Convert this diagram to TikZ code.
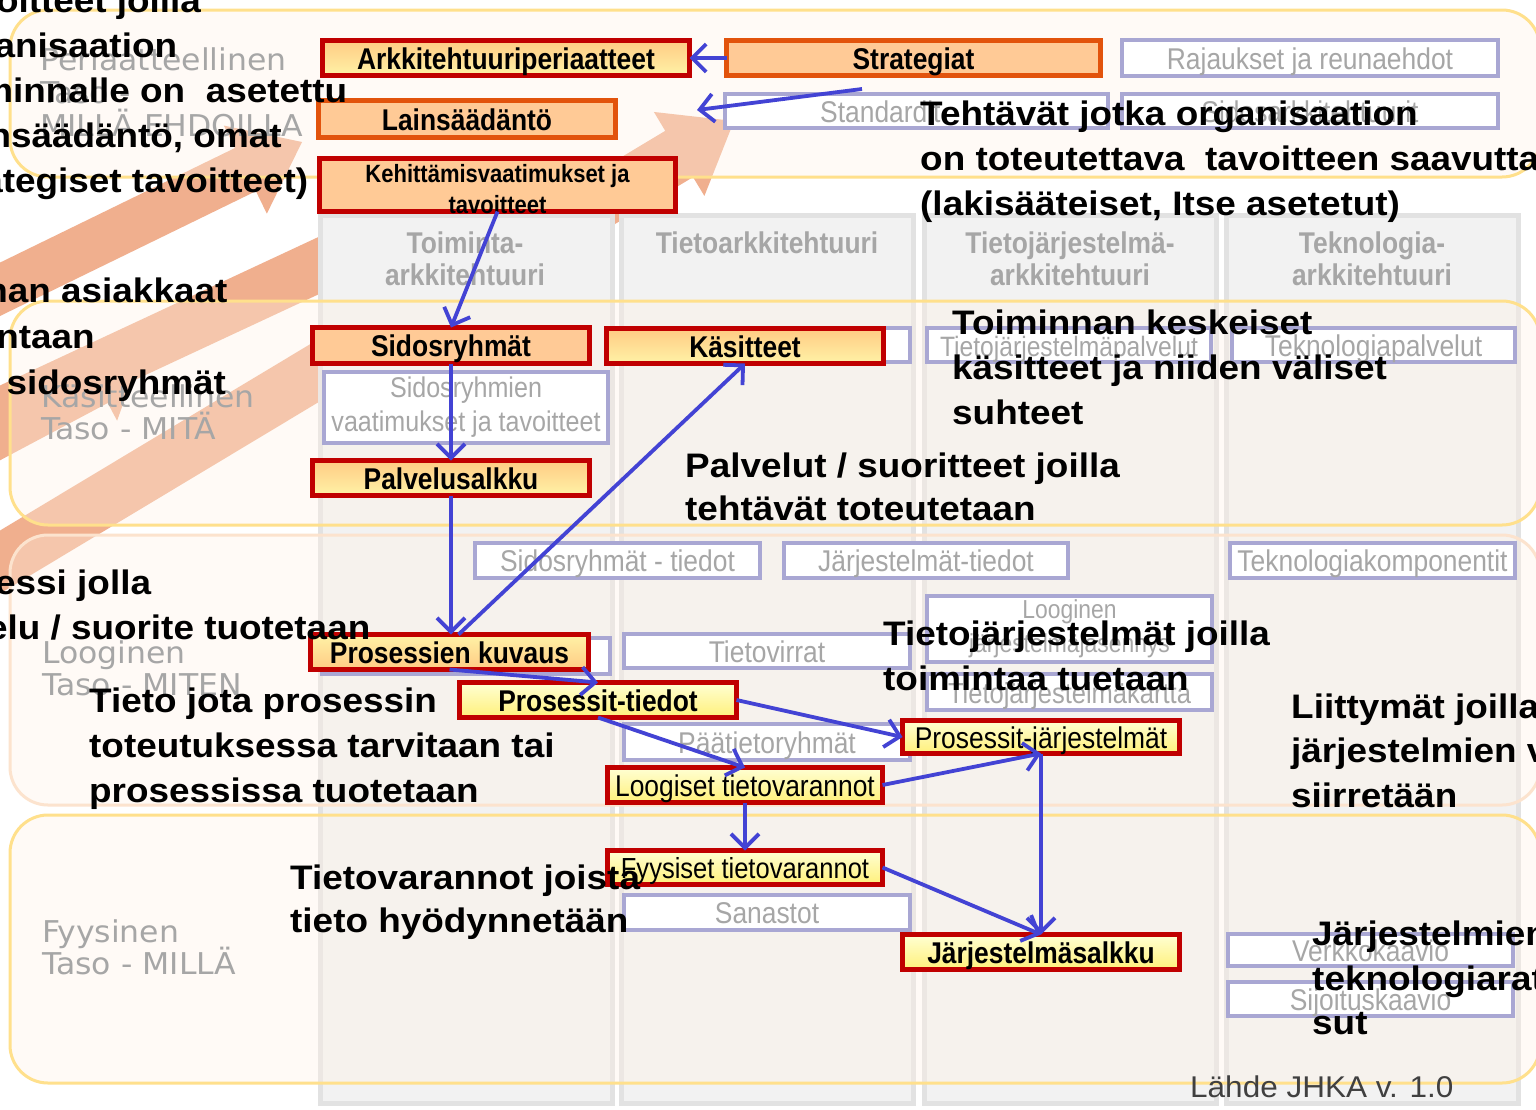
\documentclass[tikz,border=0pt]{standalone}
\usepackage{fontspec}
\setmainfont{Liberation Sans}
\newfontfamily\narf[FakeStretch=0.88]{Liberation Sans}
\newfontfamily\annf[FakeStretch=1.085]{Liberation Sans}
\newfontfamily\lvlf[FakeStretch=1.05]{DejaVu Sans}
\newfontfamily\srcf[FakeStretch=1.05]{Liberation Sans}
\usetikzlibrary{arrows.meta,calc}
\definecolor{salm}{HTML}{F0AF8E}
\definecolor{lvlfill}{HTML}{FFF3E6}
\definecolor{lvlyel}{HTML}{FFE08C}
\definecolor{lvlpeach}{HTML}{FCE3CE}
\definecolor{colfill}{HTML}{F2F2F2}
\definecolor{colline}{HTML}{E2E2E2}
\definecolor{lav}{HTML}{A9A7D3}
\definecolor{greytxt}{HTML}{A6A6A6}
\definecolor{boxred}{HTML}{C00000}
\definecolor{boxorange}{HTML}{E2530C}
\definecolor{peach}{HTML}{FFCA96}
\definecolor{ogtop}{HTML}{FFCB84}
\definecolor{ogbot}{HTML}{FFF2A6}
\definecolor{ygtop}{HTML}{FFFFD4}
\definecolor{ygbot}{HTML}{FFF07A}
\definecolor{arrblue}{HTML}{4343D4}
\definecolor{srcgrey}{HTML}{404040}
\tikzset{
  lvlbox/.style={line width=3pt, fill=lvlfill, fill opacity=0.35, rounded corners=38pt},
  colbox/.style={fill=colfill, draw=colline, line width=5pt},
  bx/.style={rectangle, inner sep=0pt, outer sep=0pt, align=center, text height=25pt, text depth=3pt, font=\narf\fontsize{30pt}{34pt}\selectfont},
  multi/.style={text height={}, text depth={}},
  lavbox/.style={bx, draw=lav, line width=4pt, fill=white, text=greytxt},
  redbox/.style={bx, draw=boxred, line width=5pt, text=black},
  orbox/.style={bx, draw=boxorange, line width=5pt, fill=peach, text=black},
  ograd/.style={top color=ogtop, bottom color=ogbot},
  ogradrev/.style={top color=ogbot, bottom color=ogtop},
  ygrad/.style={top color=ygtop, bottom color=ygbot},
  bld/.style={font=\narf\bfseries\fontsize{30pt}{34pt}\selectfont},
  coltitle/.style={inner sep=0pt, anchor=base, text=greytxt, font=\narf\bfseries\fontsize{30pt}{34pt}\selectfont},
  lvltxt/.style={inner sep=0pt, anchor=base west, text=greytxt, font=\lvlf\fontsize{30pt}{34pt}\selectfont},
  annw/.style={inner sep=0pt, anchor=base west, text=black, font=\annf\bfseries\fontsize{34pt}{45pt}\selectfont},
  flow/.style={draw=arrblue, line width=3.8pt, -{Straight Barb[length=14pt,width=28pt]}},
}
\newcommand{\salmarrow}[6]{%
  \begin{scope}[shift={(#1,#2)}, rotate=#3]
    \fill[salm] (0,0) -- (-#6,#5) -- (-#6,#4) -- (-1400,#4) -- (-1400,-#4) -- (-#6,-#4) -- (-#6,-#5) -- cycle;
  \end{scope}}
\begin{document}
\begin{tikzpicture}[x=1pt,y=-1pt]
\useasboundingbox (0,0) rectangle (1536,1109);
\fill[white] (0,0) rectangle (1536,1109);
% background arrows
\salmarrow{302}{142}{26}{24}{49}{63}
\salmarrow{470}{195}{25}{26}{48}{62}
\salmarrow{734}{121}{31}{27}{49}{64}
\salmarrow{138}{362}{28}{22}{42}{46}
% columns
\draw[colbox] (320,215) rectangle (612,1103);
\draw[colbox] (621,215) rectangle (913,1103);
\draw[colbox] (924,215) rectangle (1216,1103);
\draw[colbox] (1226,215) rectangle (1518,1103);
% level boxes
\draw[lvlbox, draw=lvlyel] (10,10) rectangle (1540,177);
\draw[lvlbox, draw=lvlyel] (10,301) rectangle (1540,525);
\draw[lvlbox, draw=lvlpeach] (10,535) rectangle (1540,805);
\draw[lvlbox, draw=lvlyel] (10,815) rectangle (1540,1083);
% column titles
\node[coltitle] (ct1a) at (465,253) {Toiminta-};
\node[coltitle] (ct1b) at (465,285) {arkkitehtuuri};
\node[coltitle] (ct2) at (767,253) {Tietoarkkitehtuuri};
\node[coltitle] (ct3a) at (1070,253) {Tietojärjestelmä-};
\node[coltitle] (ct3b) at (1070,285) {arkkitehtuuri};
\node[coltitle] (ct4a) at (1372,253) {Teknologia-};
\node[coltitle] (ct4b) at (1372,285) {arkkitehtuuri};
% level labels
\node[lvltxt] (l1a) at (40,70) {Periaatteellinen};
\node[lvltxt] (l1b) at (40,103) {Taso -};
\node[lvltxt] (l1c) at (40,136) {MILLÄ EHDOILLA};
\node[lvltxt] (l2a) at (41,407) {Käsitteellinen};
\node[lvltxt] (l2b) at (41,439) {Taso - MITÄ};
\node[lvltxt] (l3a) at (42,663) {Looginen};
\node[lvltxt] (l3b) at (42,695) {Taso - MITEN};
\node[lvltxt] (l4a) at (42,942) {Fyysinen};
\node[lvltxt] (l4b) at (42,974) {Taso - MILLÄ};
% lavender boxes
\node[lavbox, minimum width=376pt, minimum height=36pt] (raja) at (1310,58) {Rajaukset ja reunaehdot};
\node[lavbox, minimum width=383pt, minimum height=34pt] (stand) at (916.5,111) {};
\node[inner sep=0pt, anchor=base west, text=greytxt, font=\narf\fontsize{30pt}{34pt}\selectfont] (standt) at (820,122) {Standardit};
\node[lavbox, minimum width=376pt, minimum height=34pt] (sidark) at (1310,111) {Sidosarkkitehtuurit};
\node[lavbox, minimum width=288pt, minimum height=34pt] (kasback) at (766,345) {};
\node[lavbox, minimum width=284pt, minimum height=34pt, font=\narf\fontsize{28pt}{32pt}\selectfont] (tjpalv) at (1069,345) {Tietojärjestelmäpalvelut};
\node[lavbox, minimum width=283pt, minimum height=34pt] (tekpalv) at (1373.5,345) {Teknologiapalvelut};
\node[lavbox, multi, minimum width=284pt, minimum height=71pt, font=\narf\fontsize{28.5pt}{34pt}\selectfont] (sidvaat) at (466,407.5) {Sidosryhmien\\vaatimukset ja tavoitteet};
\node[lavbox, minimum width=285pt, minimum height=35pt] (sidtied) at (617.5,560.5) {Sidosryhmät - tiedot};
\node[lavbox, minimum width=284pt, minimum height=35pt] (jarjtied) at (926,560.5) {Järjestelmät-tiedot};
\node[lavbox, minimum width=285pt, minimum height=35pt] (tekkomp) at (1372.5,560.5) {Teknologiakomponentit};
\node[lavbox, multi, minimum width=285pt, minimum height=66pt, font=\narf\fontsize{26pt}{34pt}\selectfont] (loogjas) at (1069.5,629) {Looginen\\järjestelmäjäsennys};
\node[lavbox, minimum width=285pt, minimum height=36pt, font=\narf\fontsize{29pt}{33pt}\selectfont] (tjkartta) at (1069.5,692) {Tietojärjestelmäkartta};
\node[lavbox, minimum width=288pt, minimum height=36pt] (proskback) at (466,656) {};
\node[lavbox, minimum width=286pt, minimum height=34pt] (tvirrat) at (767,651) {Tietovirrat};
\node[lavbox, minimum width=286pt, minimum height=36pt] (paatiet) at (767,742) {Päätietoryhmät};
\node[lavbox, minimum width=286pt, minimum height=35pt] (sanastot) at (767,912.5) {Sanastot};
\node[lavbox, minimum width=285pt, minimum height=32pt] (verkko) at (1370.5,950) {Verkkokaavio};
\node[lavbox, minimum width=285pt, minimum height=34pt] (sijoitus) at (1370.5,999) {Sijoituskaavio};
% red / orange boxes
\node[redbox, ograd, bld, minimum width=367pt, minimum height=35pt] (arkki) at (506,58) {Arkkitehtuuriperiaatteet};
\node[orbox, bld, minimum width=374pt, minimum height=35pt] (strat) at (913.5,58) {Strategiat};
\node[orbox, bld, minimum width=297pt, minimum height=37pt] (lain) at (467,119) {Lainsäädäntö};
\node[redbox, fill=peach, minimum width=356pt, minimum height=53pt] (kehit) at (497.5,185) {};
\node[inner sep=0pt, align=center, font=\narf\bfseries\fontsize{25pt}{31pt}\selectfont] (kehitt) at (497.5,189) {Kehittämisvaatimukset ja\\tavoitteet};
\node[redbox, fill=peach, bld, minimum width=277pt, minimum height=36pt] (sidos) at (451,345.5) {Sidosryhmät};
\node[redbox, ograd, bld, minimum width=277pt, minimum height=35pt] (kasit) at (745,346) {Käsitteet};
\node[redbox, ograd, bld, minimum width=277pt, minimum height=35pt] (palv) at (451,478) {Palvelusalkku};
\node[redbox, ogradrev, bld, minimum width=278pt, minimum height=35pt] (proskuv) at (449.5,652) {Prosessien kuvaus};
\node[redbox, ygrad, bld, minimum width=277pt, minimum height=35pt] (prtied) at (598,700) {Prosessit-tiedot};
\node[redbox, ygrad, minimum width=277pt, minimum height=33pt] (prjarj) at (1041,737) {Prosessit-järjestelmät};
\node[redbox, ygrad, minimum width=275pt, minimum height=35pt] (loogtv) at (745,785) {Loogiset tietovarannot};
\node[redbox, ygrad, minimum width=275pt, minimum height=34pt, font=\narf\fontsize{29pt}{33pt}\selectfont] (fyystv) at (745,867.5) {Fyysiset tietovarannot};
\node[redbox, ygrad, bld, minimum width=277pt, minimum height=35pt] (jsalkku) at (1041,952) {Järjestelmäsalkku};
% blue connectors
\coordinate (bst) at (862,89);
\coordinate (btip) at (697,110);
\draw[flow] (strat.west) -- (arkki.east);
\draw[flow] (bst) -- (btip);
\draw[flow] (kehit.south) -- (sidos.north);
\draw[flow] (sidos.south) -- (palv.north);
\draw[flow] (palv.south) -- (palv.south |- proskuv.north);
\draw[flow] ([xshift=9pt]proskuv.north) -- (kasit.south);
\draw[flow] (proskuv.south) -- (prtied.north);
\draw[flow] (prtied.south) -- (loogtv.north);
\draw[flow] (prtied.east) -- (prjarj.west);
\draw[flow] (loogtv.east) -- (prjarj.south);
\draw[flow] (prjarj.south) -- (jsalkku.north);
\draw[flow] (loogtv.south) -- (fyystv.north);
\draw[flow] (fyystv.east) -- (jsalkku.north);
% annotations
\node[annw] (t1a) at (-65,12) {Tavoitteet joilla};
\node[annw] (t1b) at (-65,57) {organisaation};
\node[annw] (t1c) at (-65,102) {toiminnalle on\ \ asetettu};
\node[annw] (t1d) at (-65,147) {(lainsäädäntö, omat};
\node[annw] (t1e) at (-65,192) {strategiset tavoitteet)};
\node[annw] (t2a) at (920,125) {Tehtävät jotka organisaation};
\node[annw] (t2b) at (920,170) {on toteutettava\ \ tavoitteen saavuttamiseksi};
\node[annw] (t2c) at (920,215) {(lakisääteiset, Itse asetetut)};
\node[annw] (t3a) at (-133,302) {Toiminnan asiakkaat};
\node[annw] (t3b) at (-133,348) {ja toimintaan};
\node[annw] (t3c) at (-133,394) {liittyvät sidosryhmät};
\node[annw] (t4a) at (-87,594) {Prosessi jolla};
\node[annw] (t4b) at (-87,639) {palvelu / suorite tuotetaan};
\node[annw] (t5a) at (89,712) {Tieto jota prosessin};
\node[annw] (t5b) at (89,757) {toteutuksessa tarvitaan tai};
\node[annw] (t5c) at (89,802) {prosessissa tuotetaan};
\node[annw] (t6a) at (685,477) {Palvelut / suoritteet joilla};
\node[annw] (t6b) at (685,520) {tehtävät toteutetaan};
\node[annw] (t7a) at (952,334) {Toiminnan keskeiset};
\node[annw] (t7b) at (952,379) {käsitteet ja niiden väliset};
\node[annw] (t7c) at (952,424) {suhteet};
\node[annw] (t8a) at (883,645) {Tietojärjestelmät joilla};
\node[annw] (t8b) at (883,690) {toimintaa tuetaan};
\node[annw] (t9a) at (1291,718) {Liittymät joilla};
\node[annw] (t9b) at (1291,762) {järjestelmien välillä tietoa};
\node[annw] (t9c) at (1291,807) {siirretään};
\node[annw] (t10a) at (290,889) {Tietovarannot joista};
\node[annw] (t10b) at (290,932) {tieto hyödynnetään};
\node[annw] (t11a) at (1312,945) {Järjestelmien};
\node[annw] (t11b) at (1312,990) {teknologiaratkai};
\node[annw] (t11c) at (1312,1034) {sut};
\node[inner sep=0pt, anchor=base west, text=srcgrey, font=\srcf\fontsize{30pt}{34pt}\selectfont] (src) at (1190,1097) {Lähde JHKA v. 1.0};
\end{tikzpicture}
\end{document}
